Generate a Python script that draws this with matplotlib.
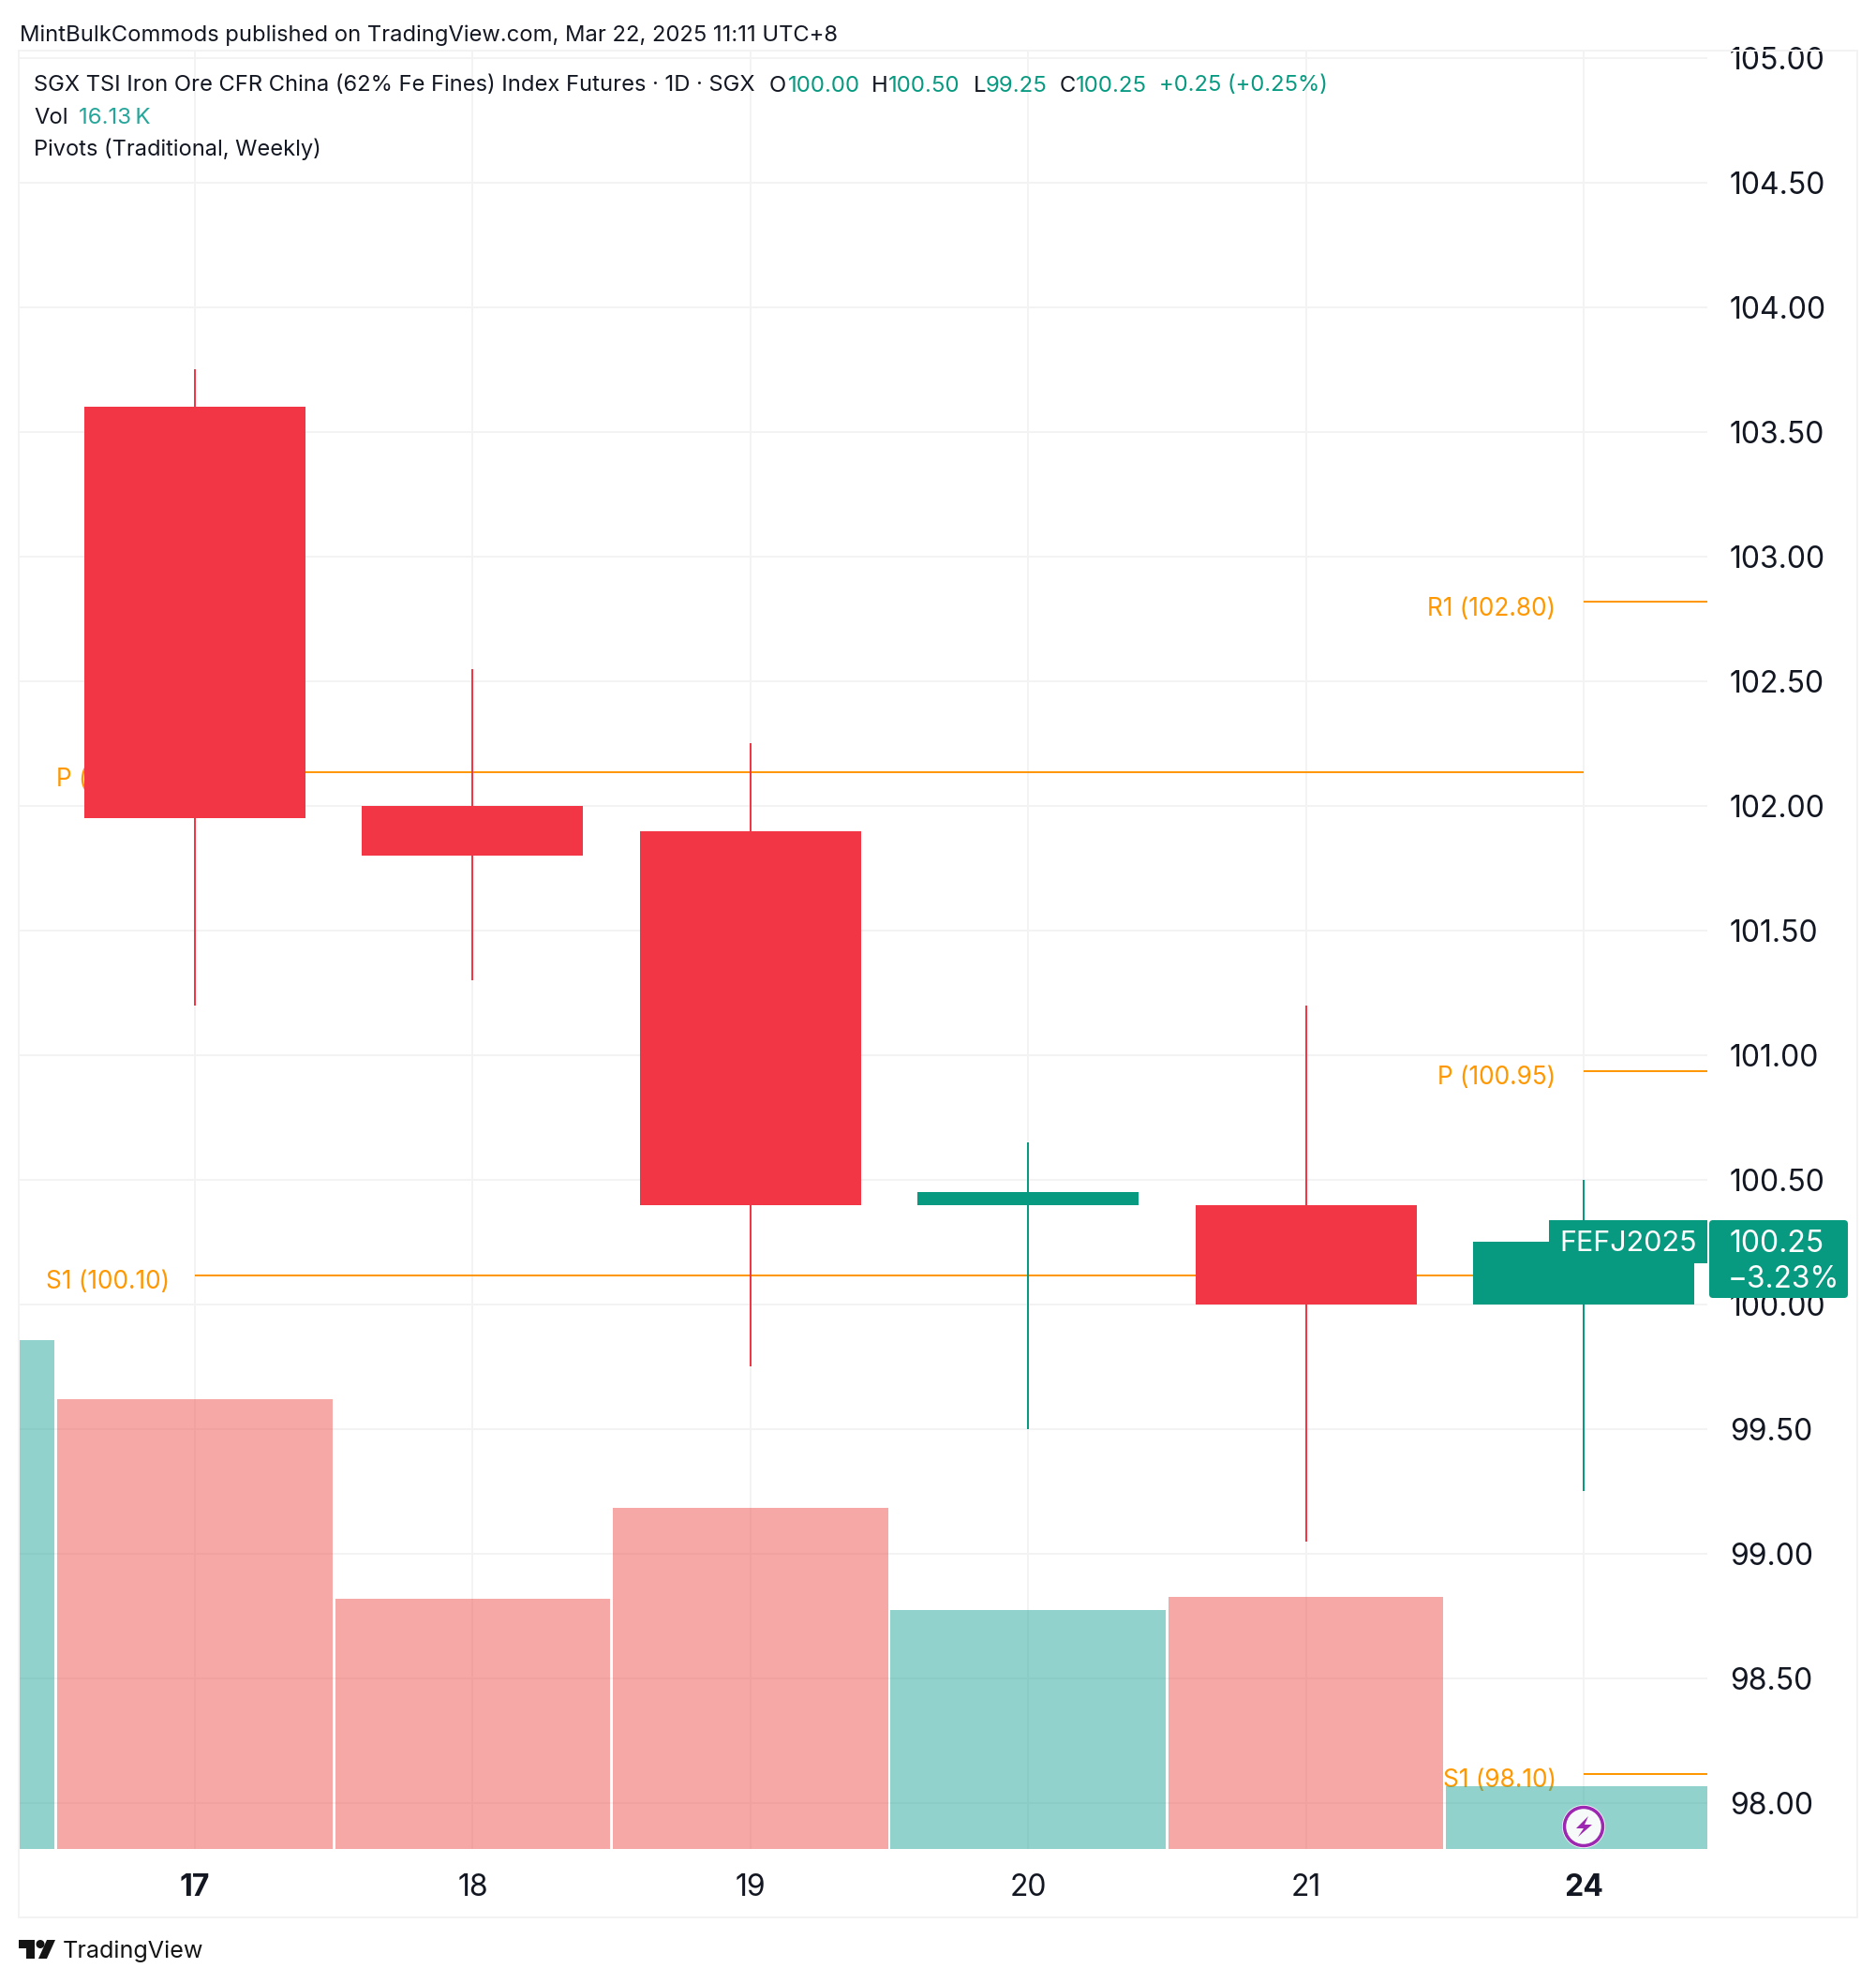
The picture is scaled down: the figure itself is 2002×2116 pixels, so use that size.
import matplotlib
matplotlib.use("Agg")
import matplotlib.pyplot as plt
from matplotlib.patches import Rectangle, Polygon, Circle, FancyBboxPatch

plt.rcParams['font.family'] = ['Inter', 'DejaVu Sans']

# ---- data ----
day_labels = ["17", "18", "19", "20", "21", "24"]
bold_days = ["17", "24"]
opens = [103.60, 102.00, 101.90, 100.40, 100.40, 100.00]
highs = [103.75, 102.55, 102.25, 100.65, 101.20, 100.50]
lows = [101.20, 101.30, 99.75, 99.50, 99.05, 99.25]
closes = [101.95, 101.80, 100.40, 100.45, 100.00, 100.25]
vol_x = [-1, 0, 1, 2, 3, 4, 5]
volumes = [130.7, 115.6, 64.3, 87.6, 61.4, 64.8, 16.13]
vol_up = [True, False, False, False, True, False, True]
price_ticks = [98 + 0.5 * i for i in range(15)]

pivot_names = ["P (102.13)", "S1 (100.10)", "R1 (102.80)", "P (100.95)", "S1 (98.10)"]
pivot_line = [102.135, 100.118, 102.82, 100.936, 98.117]
pivot_label_y = [102.105, 100.09, 102.79, 100.91, 98.09]
pivot_start = [0, 0, 5, 5, 5]
pivot_end = [5, 5, 5.445, 5.445, 5.445]
pivot_pad = [27.5, 27, 29.5, 29.5, 29]

UP, DOWN = "#089981", "#F23645"
VUP, VDOWN = "#26A69A", "#EF5350"
ORANGE = "#FF9800"
GRID = "#F3F3F3"
TXT = "#131722"
INK = "#141414"

W, H = 2002, 2116
fig = plt.figure(figsize=(W / 100, H / 100), dpi=100, facecolor="white")
L, R, T, B = 20, 1822, 54, 1973

def pts(px):
    return px * 72 / 100

rect = [L / W, 1 - B / H, (R - L) / W, (B - T) / H]
ax = fig.add_axes(rect)
x_step = 296.4
x0 = 208
ax.set_xlim((L - x0) / x_step, (R - x0) / x_step)
y_scale = 266.0
ax.set_ylim(100 - (B - 1392) / y_scale, 100 + (1392 - T) / y_scale)
ax.set_facecolor("none")
for s in ax.spines.values():
    s.set_visible(False)
ax.set_axisbelow(True)
ax.grid(True, color=GRID, lw=pts(2))
ax.set_xticks(range(len(day_labels)))
ax.set_xticklabels(day_labels)
for lab in ax.get_xticklabels():
    lab.set_fontsize(23)
    lab.set_color(TXT)
    if lab.get_text() in bold_days:
        lab.set_fontweight("bold")
ax.tick_params(axis="x", length=0, pad=pts(26))
ax.set_zorder(1)

# pivots
for name, v, ly, a, b, p in zip(pivot_names, pivot_line, pivot_label_y, pivot_start, pivot_end, pivot_pad):
    ax.plot([a, b], [v, v], color=ORANGE, lw=pts(2), zorder=1.5, solid_capstyle="butt")
    ax.annotate(name, (a, ly), xytext=(-pts(p), 0), textcoords="offset points",
                ha="right", va="center", color=ORANGE, fontsize=18.9, zorder=1.5)

# volume, on its own scale
axv = ax.twinx()
axv.set_ylim(0, (B - T) / 4.154)
axv.set_axis_off()
axv.set_zorder(2)
vc = [VUP if u else VDOWN for u in vol_up]
axv.bar(vol_x, volumes, width=0.99, color=vc, alpha=0.5, linewidth=0)

# price labels on the right
ax.set_yticks(price_ticks)
ax.set_yticklabels([f"{v:.2f}" for v in price_ticks])
ax.yaxis.tick_right()
ax.tick_params(axis="y", length=0, pad=pts(24), labelsize=23, labelcolor=TXT)
ax.set_ylim(100 - (B - 1392) / y_scale, 100 + (1392 - T) / y_scale)

# candles, above the volume
axc = fig.add_axes(rect, sharex=ax, sharey=ax, facecolor="none")
axc.set_axis_off()
axc.set_zorder(3)
for i, (o, h, l, c) in enumerate(zip(opens, highs, lows, closes)):
    col = UP if c >= o else DOWN
    axc.plot([i, i], [l, h], color=col, lw=pts(2), solid_capstyle="butt", zorder=4)
    axc.add_patch(Rectangle((i - 0.398, min(o, c)), 0.796, abs(c - o), facecolor=col,
                            edgecolor="none", zorder=5))

# pixel coordinate layer
ov = fig.add_axes([0, 0, 1, 1], facecolor="none")
ov.set_xlim(0, W)
ov.set_ylim(H, 0)
ov.set_axis_off()
ov.set_zorder(10)

# frame
ov.add_patch(Rectangle((L, T), 1982 - L, 2046 - T, fill=False, edgecolor=GRID, lw=pts(2)))

# last price tags
ov.add_patch(Rectangle((1653, 1302), 169, 46, facecolor=UP, edgecolor="none"))
ov.add_patch(FancyBboxPatch((1824, 1302), 148, 83, boxstyle="round,pad=0,rounding_size=4",
                            facecolor=UP, edgecolor="none"))
ov.text(1738, 1327, "FEFJ2025", color="white", fontsize=22, ha="center", va="center")
ov.text(1846, 1327, "100.25", color="white", fontsize=23, ha="left", va="center")
ov.text(1844, 1365, "\u22123.23%", color="white", fontsize=22.8, ha="left", va="center")

# header text
fs = 17.1
ov.text(21, 38, "MintBulkCommods published on TradingView.com, Mar 22, 2025 11:11 UTC+8",
        color=TXT, fontsize=fs, ha="left", va="center")
ov.text(36, 91.5, "SGX TSI Iron Ore CFR China (62% Fe Fines) Index Futures \u00b7 1D \u00b7 SGX",
        color=TXT, fontsize=fs, ha="left", va="center")
ov.text(821, 91.5, "O", color=TXT, fontsize=fs, ha="left", va="center")
ov.text(841, 91.5, "100.00", color=UP, fontsize=17.3, ha="left", va="center")
ov.text(930, 91.5, "H", color=TXT, fontsize=fs, ha="left", va="center")
ov.text(948, 91.5, "100.50", color=UP, fontsize=17.3, ha="left", va="center")
ov.text(1039, 91.5, "L", color=TXT, fontsize=fs, ha="left", va="center")
ov.text(1052, 91.5, "99.25", color=UP, fontsize=17.3, ha="left", va="center")
ov.text(1131, 91.5, "C", color=TXT, fontsize=fs, ha="left", va="center")
ov.text(1148, 91.5, "100.25", color=UP, fontsize=17.3, ha="left", va="center")
ov.text(1237, 91.5, "+0.25 (+0.25%)", color=UP, fontsize=fs, ha="left", va="center")
ov.text(36, 125.5, "Vol", color=TXT, fontsize=fs, ha="left", va="center")
ov.text(84, 125.5, "16.13\u2009K", color=VUP, fontsize=17.3, ha="left", va="center")
ov.text(36, 159, "Pivots (Traditional, Weekly)", color=TXT, fontsize=17, ha="left", va="center")

# event icon
ov.add_patch(Circle((1690, 1949), 23, facecolor="white", edgecolor="none"))
ov.add_patch(Circle((1690, 1949), 20.5, facecolor="#F6FBFA", edgecolor="#9C27B0", lw=pts(3.5)))
ov.add_patch(Polygon([(1695, 1938), (1682, 1951), (1690, 1951), (1684, 1960),
                      (1699, 1947), (1691, 1947)], closed=True, facecolor="#9C27B0", edgecolor="none"))

# logo
ov.add_patch(Polygon([(20, 2070), (37, 2070), (37, 2090), (28, 2090), (28, 2079), (20, 2079)],
                     closed=True, facecolor=INK, edgecolor="none"))
ov.add_patch(Circle((43, 2074.5), 4.5, facecolor=INK, edgecolor="none"))
ov.add_patch(Polygon([(50, 2070), (59, 2070), (50, 2090), (41, 2090)],
                     closed=True, facecolor=INK, edgecolor="none"))
ov.text(67, 2082, "TradingView", color=INK, fontsize=18.1, ha="left", va="center")

fig.savefig("out.png", dpi=100, facecolor="white")
